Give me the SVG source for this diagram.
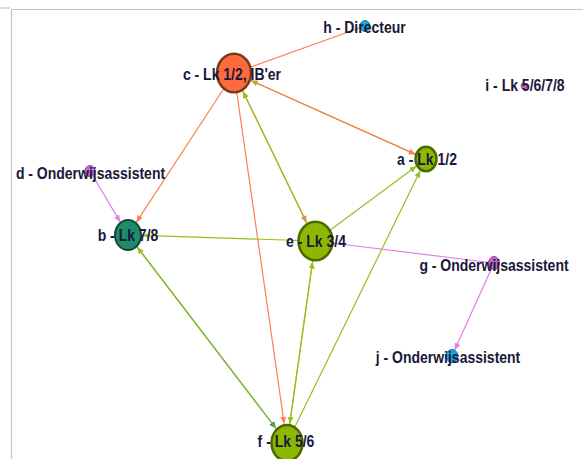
<svg xmlns="http://www.w3.org/2000/svg" width="583" height="459" viewBox="0 0 583 459">
<style>
.lbl{font-family:"Liberation Sans",Arial,sans-serif;font-size:14px;font-weight:bold;fill:#18183a;text-anchor:middle}
.eo{stroke:#ff7f50;stroke-width:1.2;fill:none}
.eg{stroke:#96c01c;stroke-width:1.2;fill:none}
.ep{stroke:#e27ee6;stroke-width:1.2;fill:none}
.et{stroke:#1e8a68;stroke-width:1.2;fill:none}
.green{fill:#8db800;stroke:#4e6800;stroke-width:2.5}
.purple{fill:#c468cc;stroke:#9848a0;stroke-width:1}
.blue{fill:#1aa8dc;stroke:#1080b0;stroke-width:1}
</style>
<defs>
<marker id="mo" markerUnits="userSpaceOnUse" markerWidth="8" markerHeight="7" refX="7" refY="3" orient="auto"><path d="M0,0 L7,3 L0,6 z" fill="#ff7f50"/></marker>
<marker id="mg" markerUnits="userSpaceOnUse" markerWidth="8" markerHeight="7" refX="7" refY="3" orient="auto"><path d="M0,0 L7,3 L0,6 z" fill="#96c01c"/></marker>
<marker id="mp" markerUnits="userSpaceOnUse" markerWidth="8" markerHeight="7" refX="7" refY="3" orient="auto"><path d="M0,0 L7,3 L0,6 z" fill="#e27ee6"/></marker>
<marker id="mt" markerUnits="userSpaceOnUse" markerWidth="8" markerHeight="7" refX="7" refY="3" orient="auto"><path d="M0,0 L7,3 L0,6 z" fill="#1e8a68"/></marker>
</defs>
<rect width="583" height="459" fill="#ffffff"/>
<g id="frame" stroke="#c4c4c4" stroke-width="1.2">
<line x1="0" y1="8" x2="10" y2="8"/>
<line x1="11" y1="9.5" x2="583" y2="9.5"/>
<line x1="11.5" y1="9" x2="11.5" y2="459"/>
</g>
<g id="connectors">
<line class="eg" x1="426" y1="159" x2="250.8" y2="80.5" marker-end="url(#mg)"/>
<line class="eo" x1="234" y1="73" x2="365" y2="26"/>
<line class="eo" x1="234" y1="73" x2="415.7" y2="154.4" marker-end="url(#mo)"/>
<line class="eo" x1="234" y1="73" x2="136.3" y2="222.4" marker-end="url(#mo)"/>
<line class="eo" x1="234" y1="73" x2="284.2" y2="423.8" marker-end="url(#mo)"/>
<line class="eo" x1="234" y1="73" x2="306.6" y2="222.7" marker-end="url(#mo)"/>
<line class="eg" x1="315.5" y1="241" x2="242.9" y2="91.3" marker-end="url(#mg)"/>
<line class="eg" x1="315.5" y1="241" x2="416.6" y2="166" marker-end="url(#mg)"/>
<line class="eg" x1="287" y1="443" x2="420.3" y2="170.6" marker-end="url(#mg)"/>
<line class="eg" x1="315.5" y1="241" x2="142.5" y2="235.4" marker-end="url(#mg)"/>
<line class="et" x1="128" y1="235" x2="276" y2="428.5" marker-end="url(#mt)"/>
<line class="eg" x1="287" y1="443" x2="137.1" y2="246.9" marker-end="url(#mg)"/>
<line class="eg" x1="315.5" y1="241" x2="289.7" y2="423.8" marker-end="url(#mg)"/>
<line class="eg" x1="287" y1="443" x2="312.6" y2="261.7" marker-end="url(#mg)"/>
<line class="ep" x1="90" y1="171" x2="120.2" y2="221.9" marker-end="url(#mp)"/>
<line class="ep" x1="494" y1="263" x2="315.5" y2="241"/>
<line class="ep" x1="494" y1="263" x2="454.7" y2="350.1" marker-end="url(#mp)"/>
</g>
<g id="node-h"><ellipse cx="365" cy="26" rx="5" ry="5.5" class="blue"/></g>
<g id="node-i"><ellipse cx="524" cy="86" rx="3" ry="3" class="purple"/></g>
<g id="node-j"><ellipse cx="452" cy="356" rx="6" ry="6.5" class="blue"/></g>
<g id="node-d"><ellipse cx="90" cy="171" rx="5" ry="5.5" class="purple"/></g>
<g id="node-g"><ellipse cx="494" cy="263" rx="5.5" ry="6.5" class="purple"/></g>
<g id="node-c"><ellipse cx="234" cy="73" rx="17" ry="19.2" fill="#ff6a3c" stroke="#7a3a1e" stroke-width="2.5"/></g>
<g id="node-a"><ellipse cx="426" cy="159" rx="10.5" ry="12.2" class="green" stroke-width="1.5"/></g>
<g id="node-b"><ellipse cx="128" cy="235" rx="13" ry="15" fill="#1f8b6b" stroke="#0f4a38" stroke-width="2"/></g>
<g id="node-e"><ellipse cx="315.5" cy="241" rx="17" ry="19.2" class="green"/></g>
<g id="node-f"><ellipse cx="287" cy="443" rx="15.5" ry="18" class="green"/></g>
<g id="labels" transform="scale(1,1.17)">
<text class="lbl" x="232" y="68.38">c - Lk 1/2, IB'er</text>
<text class="lbl" x="364.5" y="28.21">h - Directeur</text>
<text class="lbl" x="525" y="78.21">i - Lk 5/6/7/8</text>
<text class="lbl" x="427" y="141.03">a - Lk 1/2</text>
<text class="lbl" x="90.5" y="152.99">d - Onderwijsassistent</text>
<text class="lbl" x="128" y="205.98">b - Lk 7/8</text>
<text class="lbl" x="316" y="210.85">e - Lk 3/4</text>
<text class="lbl" x="494" y="232.05">g - Onderwijsassistent</text>
<text class="lbl" x="448" y="310.26">j - Onderwijsassistent</text>
<text class="lbl" x="286" y="381.79">f - Lk 5/6</text>
</g>
</svg>
